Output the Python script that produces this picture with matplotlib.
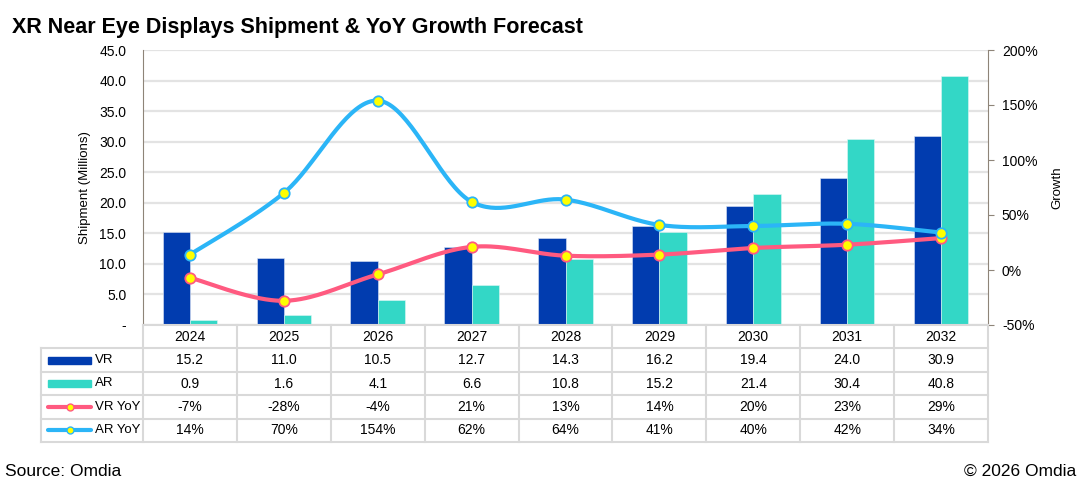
import numpy as np
import matplotlib.pyplot as plt
from matplotlib.patches import Rectangle
from matplotlib.lines import Line2D

plt.rcParams['font.family'] = ['Liberation Sans', 'DejaVu Sans']

# 数据
years = ['2024', '2025', '2026', '2027', '2028', '2029', '2030', '2031', '2032']
vr = [15.2, 11.0, 10.5, 12.7, 14.3, 16.2, 19.4, 24.0, 30.9]
ar = [0.9, 1.6, 4.1, 6.6, 10.8, 15.2, 21.4, 30.4, 40.8]
vr_yoy = [-7, -28, -4, 21, 13, 14, 20, 23, 29]
ar_yoy = [14, 70, 154, 62, 64, 41, 40, 42, 34]

c_vr = '#013CAF'
c_ar = '#33D7C6'
c_vry = '#FF5A80'
c_ary = '#2BB5F7'
c_grid = '#E3E3E3'
c_spine = '#8E8478'


# Excel 风格的平滑曲线 (贝塞尔)
def smooth(xs, ys, n=40):
    p = np.column_stack([xs, ys]).astype(float)
    out = []
    for i in range(len(p) - 1):
        p0 = p[i - 1] if i > 0 else p[i]
        p1, p2 = p[i], p[i + 1]
        p3 = p[i + 2] if i + 2 < len(p) else p[i + 1]
        c1 = p1 + (p2 - p0) / 6
        c2 = p2 - (p3 - p1) / 6
        t = np.linspace(0, 1, n)[:, None]
        seg = ((1 - t) ** 3) * p1 + 3 * ((1 - t) ** 2) * t * c1 + 3 * (1 - t) * t ** 2 * c2 + t ** 3 * p2
        out.append(seg if i == 0 else seg[1:])
    out = np.vstack(out)
    return out[:, 0], out[:, 1]


fig = plt.figure(figsize=(10.8, 4.88), dpi=100)
W, H = 1080, 488
x0, x1, ytop, ybot, ytab = 143, 988, 50, 325, 442
cw = (x1 - x0) / len(years)

ax = fig.add_axes([x0 / W, 1 - ybot / H, (x1 - x0) / W, (ybot - ytop) / H])
x = np.arange(len(years))
bw = 0.29
ax.bar(x - bw / 2, vr, bw, color=c_vr, edgecolor='#dfe6f5', linewidth=0.4, zorder=2)
ax.bar(x + bw / 2, ar, bw, color=c_ar, edgecolor='#dff7f4', linewidth=0.4, zorder=2)
ax.set_xlim(-0.5, len(years) - 0.5)
ax.set_ylim(0, 45)
ax.set_yticks(np.arange(0, 46, 5))
ax.set_yticklabels(['-' if v == 0 else f'{v:.1f}' for v in np.arange(0, 46, 5)], fontsize=10)
ax.yaxis.grid(True, color=c_grid, linewidth=1.6, zorder=0)
ax.set_axisbelow(True)
ax.set_xticks([])
ax.tick_params(axis='y', length=0, pad=12)
ax.set_ylabel('Shipment (Millions)', fontsize=9.5, labelpad=6)
for s in ['top', 'right']:
    ax.spines[s].set_visible(False)
ax.spines['left'].set_color(c_spine)
ax.spines['bottom'].set_color('#D9D9D9')
ax.spines['bottom'].set_linewidth(1.5)

ax2 = ax.twinx()
ax2.set_ylim(-50, 200)
ax2.set_yticks(np.arange(-50, 201, 50))
ax2.set_yticklabels([f'{v}%' for v in np.arange(-50, 201, 50)], fontsize=10)
ax2.tick_params(axis='y', length=4, color=c_spine, pad=6)
for s in ['top', 'left', 'bottom']:
    ax2.spines[s].set_visible(False)
ax2.spines['right'].set_color(c_spine)
ax2.set_ylabel('Growth', fontsize=9.5, labelpad=10)

sx, sy = smooth(x, vr_yoy)
ax2.plot(sx, sy, color=c_vry, lw=3, solid_capstyle='round', zorder=3)
ax2.plot(x, vr_yoy, 'o', ms=7.5, mfc='#FFFF00', mec=c_vry, mew=1.3, zorder=4)
sx, sy = smooth(x, ar_yoy)
ax2.plot(sx, sy, color=c_ary, lw=3, solid_capstyle='round', zorder=3)
ax2.plot(x, ar_yoy, 'o', ms=7.5, mfc='#FFFF00', mec=c_ary, mew=1.3, zorder=4)

# 数据表
tx0 = 41
tab = fig.add_axes([tx0 / W, 1 - ytab / H, (x1 - tx0) / W, (ytab - ybot) / H])
lab_w = (x0 - tx0) / cw
tab.set_xlim(-0.5 - lab_w, len(years) - 0.5)
tab.set_ylim(5, 0)
tab.axis('off')
gc = '#D9D9D9'
for r in range(1, 6):
    tab.plot([-0.5 - lab_w, len(years) - 0.5], [r, r], color=gc, lw=1.5, clip_on=False)
for i in range(len(years) + 1):
    tab.plot([i - 0.5, i - 0.5], [0, 5], color=gc, lw=1.5, clip_on=False)
tab.plot([-0.5 - lab_w, -0.5 - lab_w], [1, 5], color=gc, lw=1.5, clip_on=False)

rows = [
    ('VR', [f'{v:.1f}' for v in vr]),
    ('AR', [f'{v:.1f}' for v in ar]),
    ('VR YoY', [f'{v}%' for v in vr_yoy]),
    ('AR YoY', [f'{v}%' for v in ar_yoy]),
]
for i, yr in enumerate(years):
    tab.text(i, 0.5, yr, ha='center', va='center', fontsize=10)
for r, (name, vals) in enumerate(rows, start=1):
    for i, v in enumerate(vals):
        tab.text(i, r + 0.5, v, ha='center', va='center', fontsize=10)
    tab.text(-0.5 - lab_w + 54 / cw, r + 0.5, name, ha='left', va='center', fontsize=9.5)

sw0 = -0.5 - lab_w + 7 / cw
sw1 = -0.5 - lab_w + 50 / cw
tab.add_patch(Rectangle((sw0, 1.35), sw1 - sw0, 0.3, color=c_vr))
tab.add_patch(Rectangle((sw0, 2.35), sw1 - sw0, 0.3, color=c_ar))
for r, c in [(3, c_vry), (4, c_ary)]:
    tab.add_line(Line2D([sw0, sw1], [r + 0.5, r + 0.5], color=c, lw=3, solid_capstyle='round'))
    tab.plot([(sw0 + sw1) / 2], [r + 0.5], 'o', ms=5, mfc='#FFFF00', mec=c, mew=1)

fig.text(12 / W, 1 - 27 / H, 'XR Near Eye Displays Shipment & YoY Growth Forecast',
         fontsize=15.5, fontweight='bold', va='center', ha='left')
fig.text(5 / W, 1 - 471 / H, 'Source: Omdia', fontsize=12.5, va='center', ha='left')
fig.text(1076 / W, 1 - 471 / H, '© 2026 Omdia', fontsize=12.5, va='center', ha='right')

fig.savefig('out.png', dpi=100)
